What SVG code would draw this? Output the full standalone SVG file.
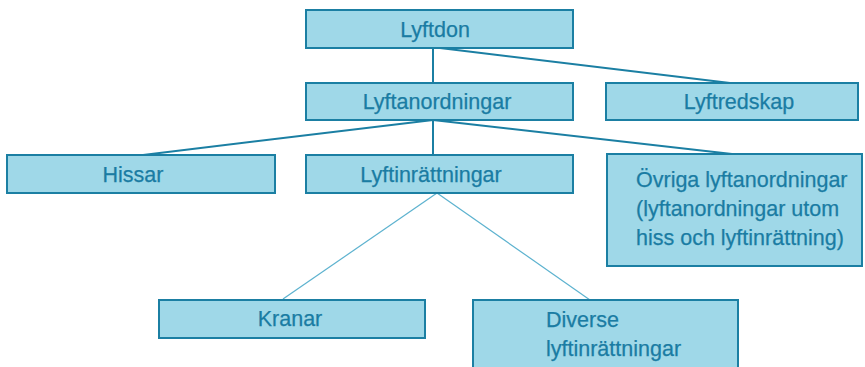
<svg xmlns="http://www.w3.org/2000/svg" width="865" height="367" viewBox="0 0 865 367">
<style>
.box{fill:#9fd8e8;stroke:#1b7fa3;stroke-width:2}
text{font-family:"Liberation Sans",Arial,sans-serif;font-size:21.5px;fill:#1a7ca3;stroke:#1a7ca3;stroke-width:0.25}
.c{text-anchor:middle}
.ln{stroke:#1b7fa3;stroke-width:2;fill:none}
.thin{stroke:#5cb2cf;stroke-width:1.2;fill:none}
</style>
<rect width="865" height="367" fill="#ffffff"/>
<g id="connectors">
<line class="ln" x1="433" y1="48" x2="433" y2="83"/>
<line class="ln" x1="440" y1="48" x2="730" y2="83"/>
<line class="ln" x1="433" y1="120" x2="143" y2="155"/>
<line class="ln" x1="433" y1="120" x2="433" y2="155"/>
<line class="ln" x1="433" y1="120" x2="732" y2="154"/>
<line class="thin" x1="437" y1="193" x2="283" y2="299"/>
<line class="thin" x1="437" y1="193" x2="590" y2="300"/>
</g>
<g id="lyftdon"><rect class="box" x="306" y="10" width="267" height="38"/><text class="c" x="435" y="37">Lyftdon</text></g>
<g id="lyftanordningar"><rect class="box" x="306" y="83" width="267" height="37"/><text class="c" x="437" y="108.5">Lyftanordningar</text></g>
<g id="lyftredskap"><rect class="box" x="606" y="83" width="252" height="37"/><text class="c" x="739" y="108.5">Lyftredskap</text></g>
<g id="hissar"><rect class="box" x="7" y="155" width="268" height="38"/><text class="c" x="133" y="181.5">Hissar</text></g>
<g id="lyftinrattningar"><rect class="box" x="306" y="155" width="267" height="38"/><text class="c" x="431" y="181.5">Lyftinrättningar</text></g>
<g id="ovriga"><rect class="box" x="607" y="154" width="255" height="112"/><text x="636" y="187">Övriga lyftanordningar</text><text x="636" y="216">(lyftanordningar utom</text><text x="636" y="245">hiss och lyftinrättning)</text></g>
<g id="kranar"><rect class="box" x="159" y="300" width="266" height="38"/><text class="c" x="290" y="326">Kranar</text></g>
<g id="diverse"><rect class="box" x="473" y="300" width="265" height="75"/><text x="546" y="327">Diverse</text><text x="546" y="356">lyftinrättningar</text></g>
</svg>
